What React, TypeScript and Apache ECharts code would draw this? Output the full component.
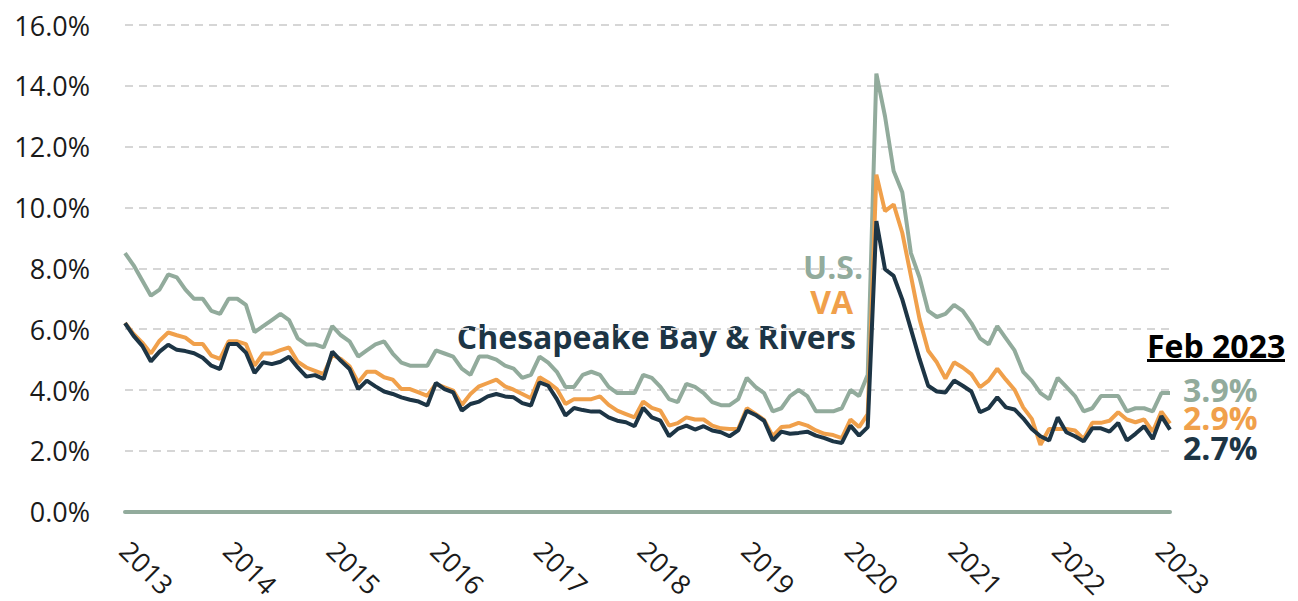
import React, { useEffect, useRef } from "react";
import * as echarts from "echarts";

const years = ["2013", "2014", "2015", "2016", "2017", "2018", "2019", "2020", "2021", "2022", "2023"];
const monthNames = ["Jan", "Feb", "Mar", "Apr", "May", "Jun", "Jul", "Aug", "Sep", "Oct", "Nov", "Dec"];
const lastYearMonths = 2;

const usRate = [
  8.5, 8.1, 7.6, 7.1, 7.3, 7.8, 7.7, 7.3, 7.0, 7.0, 6.6, 6.5,
  7.0, 7.0, 6.8, 5.9, 6.1, 6.3, 6.5, 6.3, 5.7, 5.5, 5.5, 5.4,
  6.1, 5.8, 5.6, 5.1, 5.3, 5.5, 5.6, 5.2, 4.9, 4.8, 4.8, 4.8,
  5.3, 5.2, 5.1, 4.7, 4.5, 5.1, 5.1, 5.0, 4.8, 4.7, 4.4, 4.5,
  5.1, 4.9, 4.6, 4.1, 4.1, 4.5, 4.6, 4.5, 4.1, 3.9, 3.9, 3.9,
  4.5, 4.4, 4.1, 3.7, 3.6, 4.2, 4.1, 3.9, 3.6, 3.5, 3.5, 3.7,
  4.4, 4.1, 3.9, 3.3, 3.4, 3.8, 4.0, 3.8, 3.3, 3.3, 3.3, 3.4,
  4.0, 3.8, 4.5, 14.4, 13.0, 11.2, 10.5, 8.5, 7.7, 6.6, 6.4, 6.5,
  6.8, 6.6, 6.2, 5.7, 5.5, 6.1, 5.7, 5.3, 4.6, 4.3, 3.9, 3.7,
  4.4, 4.1, 3.8, 3.3, 3.4, 3.8, 3.8, 3.8, 3.3, 3.4, 3.4, 3.3,
  3.9, 3.9,
];

const vaRate = [
  6.2, 5.84, 5.56, 5.2, 5.62, 5.89, 5.8, 5.72, 5.51, 5.51, 5.13, 5.02,
  5.6, 5.6, 5.51, 4.8, 5.2, 5.2, 5.31, 5.4, 4.93, 4.74, 4.63, 4.52,
  5.15, 5.02, 4.78, 4.25, 4.6, 4.6, 4.42, 4.34, 4.03, 4.03, 3.92, 3.81,
  4.2, 4.09, 3.98, 3.51, 3.87, 4.12, 4.23, 4.34, 4.12, 4.01, 3.87, 3.73,
  4.42, 4.25, 4.03, 3.54, 3.7, 3.7, 3.7, 3.79, 3.51, 3.32, 3.21, 3.1,
  3.62, 3.41, 3.32, 2.83, 2.91, 3.1, 3.03, 3.03, 2.83, 2.74, 2.72, 2.72,
  3.4, 3.21, 3.02, 2.48, 2.78, 2.81, 2.92, 2.83, 2.67, 2.56, 2.52, 2.42,
  3.03, 2.78, 3.21, 11.08, 9.88, 10.1, 9.17, 7.75, 6.33, 5.29, 4.91, 4.38,
  4.91, 4.74, 4.52, 4.09, 4.31, 4.7, 4.34, 4.01, 3.43, 3.05, 2.2, 2.72,
  2.72, 2.72, 2.67, 2.39, 2.92, 2.92, 2.99, 3.27, 3.03, 2.94, 3.03, 2.63,
  3.29, 2.9,
];

const cbrRate = [
  6.2, 5.78, 5.45, 4.94, 5.26, 5.49, 5.32, 5.28, 5.21, 5.06, 4.8, 4.69,
  5.51, 5.51, 5.23, 4.56, 4.91, 4.85, 4.93, 5.09, 4.74, 4.44, 4.49, 4.36,
  5.26, 4.96, 4.69, 4.03, 4.31, 4.12, 3.95, 3.87, 3.76, 3.68, 3.62, 3.49,
  4.23, 4.03, 3.92, 3.32, 3.54, 3.62, 3.79, 3.87, 3.79, 3.76, 3.57, 3.49,
  4.25, 4.14, 3.7, 3.16, 3.41, 3.34, 3.29, 3.29, 3.1, 2.99, 2.94, 2.81,
  3.41, 3.1, 2.99, 2.48, 2.72, 2.83, 2.7, 2.81, 2.67, 2.61, 2.48, 2.67,
  3.32, 3.18, 2.99, 2.34, 2.63, 2.56, 2.59, 2.63, 2.5, 2.42, 2.31, 2.26,
  2.83, 2.5, 2.78, 9.55, 7.97, 7.75, 6.98, 6.0, 5.02, 4.14, 3.95, 3.92,
  4.31, 4.14, 3.95, 3.27, 3.4, 3.76, 3.43, 3.36, 3.07, 2.72, 2.48, 2.34,
  3.1, 2.61, 2.48, 2.31, 2.74, 2.74, 2.63, 2.92, 2.34, 2.56, 2.81, 2.39,
  3.14, 2.7,
];

const yTicks = { min: 0, max: 16, interval: 2 };

const US_COLOR = "#92ab9c";
const VA_COLOR = "#f0a04b";
const CBR_COLOR = "#1d3545";
const FONT = "'Open Sans', 'Noto Sans', sans-serif";

const categories: string[] = [];
years.forEach((y, yi) => {
  const n = yi === years.length - 1 ? lastYearMonths : 12;
  for (let m = 0; m < n; m++) categories.push(monthNames[m] + " " + y);
});

export default function App() {
  const ref = useRef<HTMLDivElement>(null);
  useEffect(() => {
    document.body.style.margin = "0";
    if (!ref.current) return;
    const chart = echarts.init(ref.current, undefined, { renderer: "svg" });
    const endLabel = (color: string, dy: number) => ({
      show: true,
      formatter: (p: any) => Number(p.value).toFixed(1) + "%",
      color,
      fontFamily: FONT,
      fontWeight: "bold" as const,
      fontSize: 32,
      distance: 5,
      offset: [8, dy],
    });
    chart.setOption({
      animation: false,
      grid: { left: 125, right: 128, top: 25, bottom: 88, containLabel: false },
      xAxis: {
        type: "category",
        data: categories,
        boundaryGap: false,
        axisLine: { show: true, lineStyle: { color: US_COLOR, width: 4 } },
        axisTick: { show: false },
        axisLabel: {
          interval: (i: number) => i % 12 === 0,
          formatter: (v: string) => v.split(" ")[1],
          rotate: -45,
          margin: 34,
          color: "#1a1a1a",
          fontFamily: FONT,
          fontSize: 27,
        },
        splitLine: { show: false },
      },
      yAxis: {
        type: "value",
        min: yTicks.min,
        max: yTicks.max,
        interval: yTicks.interval,
        axisLine: { show: false },
        axisTick: { show: false },
        axisLabel: {
          formatter: (v: number) => v.toFixed(1) + "%",
          color: "#1a1a1a",
          fontFamily: FONT,
          fontSize: 27,
          margin: 35,
        },
        splitLine: { show: true, lineStyle: { color: "#d6d6d6", width: 2, type: [8, 6] } },
      },
      series: [
        {
          name: "U.S.",
          type: "line",
          data: usRate,
          symbol: "none",
          lineStyle: { color: US_COLOR, width: 4 },
          endLabel: endLabel(US_COLOR, -4),
          z: 2,
        },
        {
          name: "VA",
          type: "line",
          data: vaRate,
          symbol: "none",
          lineStyle: { color: VA_COLOR, width: 4 },
          endLabel: endLabel(VA_COLOR, -6),
          z: 3,
        },
        {
          name: "Chesapeake Bay & Rivers",
          type: "line",
          data: cbrRate,
          symbol: "none",
          lineStyle: { color: CBR_COLOR, width: 4 },
          endLabel: endLabel(CBR_COLOR, 18),
          z: 4,
        },
      ],
      graphic: [
        {
          type: "text",
          x: 863,
          y: 266,
          style: { text: "U.S.", fill: US_COLOR, font: `bold 32px ${FONT}`, textAlign: "right", textVerticalAlign: "middle" },
        },
        {
          type: "text",
          x: 853,
          y: 301,
          style: { text: "VA", fill: VA_COLOR, font: `bold 32px ${FONT}`, textAlign: "right", textVerticalAlign: "middle" },
        },
        {
          type: "text",
          x: 856,
          y: 336,
          style: {
            text: "Chesapeake Bay & Rivers",
            fill: CBR_COLOR,
            font: `bold 32px ${FONT}`,
            textAlign: "right",
            textVerticalAlign: "middle",
          },
        },
        {
          type: "text",
          x: 1147,
          y: 345,
          style: { text: "Feb 2023", fill: "#000", font: `bold 32px ${FONT}`, textAlign: "left", textVerticalAlign: "middle" },
        },
        {
          type: "rect",
          shape: { x: 1147, y: 359, width: 138, height: 3 },
          style: { fill: "#000" },
        },
      ],
    });
    return () => chart.dispose();
  }, []);
  return <div ref={ref} style={{ width: 1298, height: 601 }} />;
}
